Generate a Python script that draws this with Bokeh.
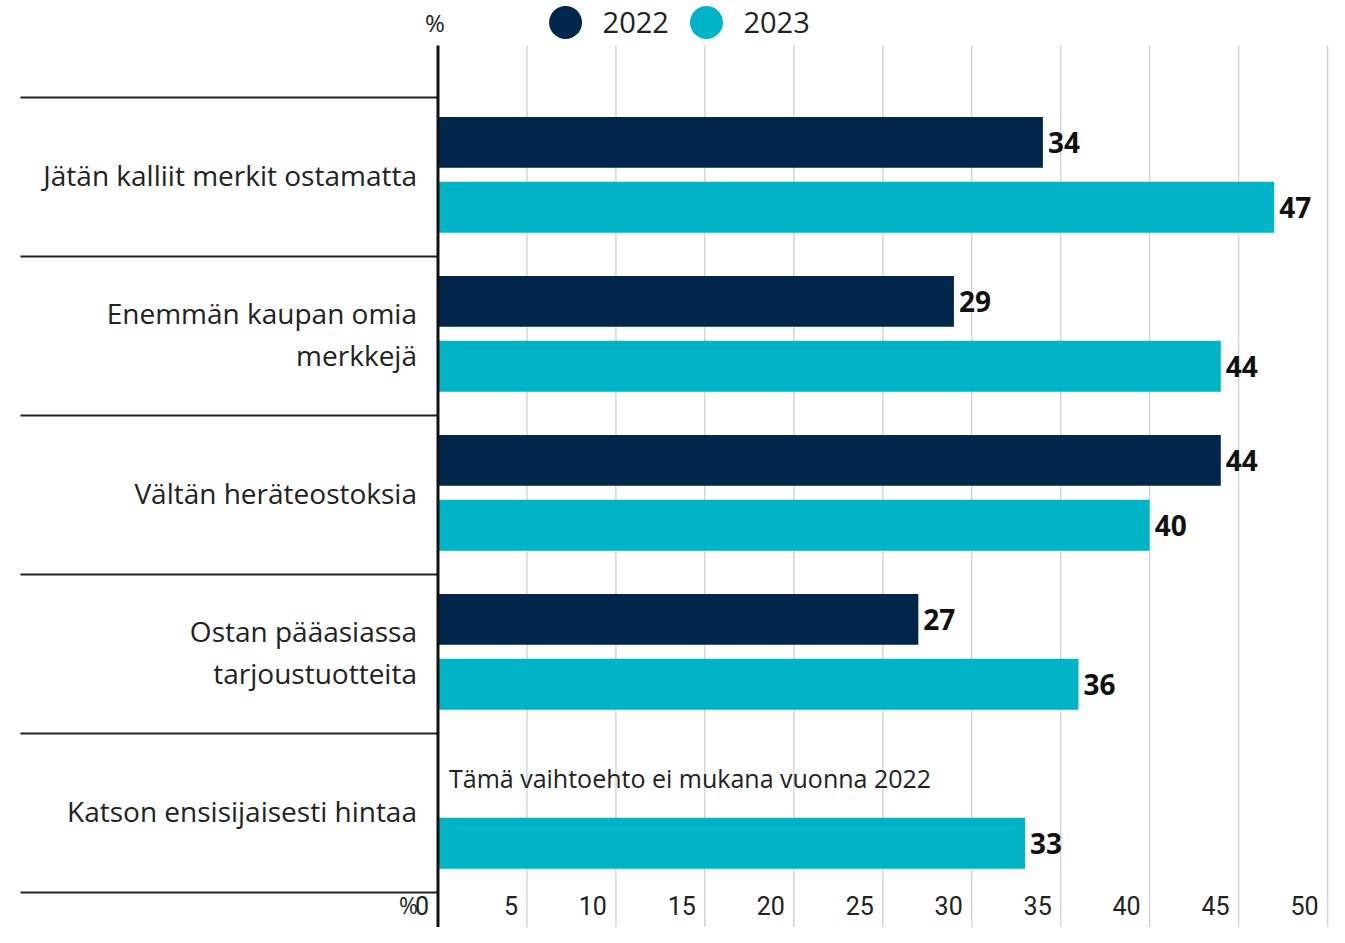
from bokeh.plotting import figure
from bokeh.models import ColumnDataSource, Range1d
from bokeh.transform import dodge
from bokeh.core.properties import value
from bokeh.embed import file_html
from bokeh.resources import INLINE

# ---- data ----
categories = [
    "Jätän kalliit merkit ostamatta",
    "Enemmän kaupan omia\nmerkkejä",
    "Vältän heräteostoksia",
    "Ostan pääasiassa\ntarjoustuotteita",
    "Katson ensisijaisesti hintaa",
]
values_2022 = [34, 29, 44, 27, None]
values_2023 = [47, 44, 40, 36, 33]
series_names = ["2022", "2023"]
tick_values = [0, 5, 10, 15, 20, 25, 30, 35, 40, 45, 50]
note_text = "Tämä vaihtoehto ei mukana vuonna 2022"

# ---- styles ----
DARK = "#00264c"
CYAN = "#00b4c8"
TXT = "#222222"
FONT = "Open Sans"
OFF22 = -0.218
OFF23 = 0.19

idx = list(range(len(categories)))

p = figure(width=1329, height=927, output_backend="svg", toolbar_location=None,
           x_range=Range1d(-24.59, 50.11), y_range=Range1d(4.720, -1.110),
           x_axis_location=None, y_axis_location=None, min_border=0,
           outline_line_color=None, background_fill_color="white")
p.xgrid.visible = False
p.ygrid.visible = False

top_y = -0.827
bottom_y = 4.72

# vertical gridlines
grid_x = tick_values[1:]
p.segment(x0=grid_x, x1=grid_x, y0=[top_y] * len(grid_x), y1=[bottom_y] * len(grid_x),
          line_color="#d6d6d6", line_width=1.5)

# separators between categories
sep_y = [i - 0.5 for i in range(len(categories) + 1)]
p.segment(x0=[-23.47] * len(sep_y), x1=[0] * len(sep_y), y0=sep_y, y1=sep_y,
          line_color=TXT, line_width=2)

# bars
src22 = ColumnDataSource(dict(y=[i for i, v in zip(idx, values_2022) if v is not None],
                              v=[v for v in values_2022 if v is not None]))
src23 = ColumnDataSource(dict(y=idx, v=values_2023))
src22.data["lab"] = [str(v) for v in src22.data["v"]]
src23.data["lab"] = [str(v) for v in src23.data["v"]]

p.hbar(y=dodge("y", OFF22, range=p.y_range), left=0, right="v", height=0.32,
       source=src22, fill_color=DARK, line_color=None)
p.hbar(y=dodge("y", OFF23, range=p.y_range), left=0, right="v", height=0.32,
       source=src23, fill_color=CYAN, line_color=None)

# value labels
for src, off in ((src22, OFF22), (src23, OFF23)):
    p.text(x="v", y=dodge("y", off, range=p.y_range), text="lab", source=src,
           x_offset=5, text_align="left", text_baseline="middle",
           text_font=value(FONT), text_font_size="28px", text_font_style="bold",
           text_color="#111111")

# note for missing 2022 value
missing = [i for i, v in zip(idx, values_2022) if v is None]
p.text(x=[0] * len(missing), y=[m + OFF22 for m in missing], text=[note_text] * len(missing),
       x_offset=11, text_align="left", text_baseline="middle",
       text_font=value(FONT), text_font_size="25px", text_color=TXT)

# axis line at 0
p.segment(x0=[0], x1=[0], y0=[top_y], y1=[bottom_y], line_color="#111111", line_width=3)

# category labels
p.text(x=[0] * len(categories), y=[i - 0.015 for i in idx], text=categories, x_offset=-21,
       text_align="right", text_baseline="middle", text_line_height=1.1,
       text_font=value(FONT), text_font_size="28px", text_color=TXT)

# tick labels
tick_y = 4.58
p.text(x=tick_values, y=[tick_y] * len(tick_values), text=[str(t) for t in tick_values],
       x_offset=-9, text_align="right", text_baseline="middle",
       text_font=value("Liberation Sans Narrow, Roboto"), text_font_size="25px",
       text_color=TXT)
p.text(x=[0], y=[tick_y], text=["%"], x_offset=-20, text_align="right",
       text_baseline="middle", text_font=value(FONT), text_font_size="23px",
       text_color=TXT)

# legend (top)
leg_y = -0.972
p.text(x=[0], y=[leg_y], text=["%"], x_offset=-3, text_align="center",
       text_baseline="middle", text_font=value(FONT), text_font_size="24px",
       text_color=TXT)
p.scatter(x=[7.17, 15.09], y=[leg_y, leg_y], size=33, marker="circle",
          fill_color=[DARK, CYAN], line_color=None)
p.text(x=[9.25, 17.17], y=[leg_y, leg_y], text=series_names, text_align="left",
       text_baseline="middle", text_font=value(FONT), text_font_size="29px",
       text_color=TXT)

open("out.html", "w").write(file_html(p, INLINE))
